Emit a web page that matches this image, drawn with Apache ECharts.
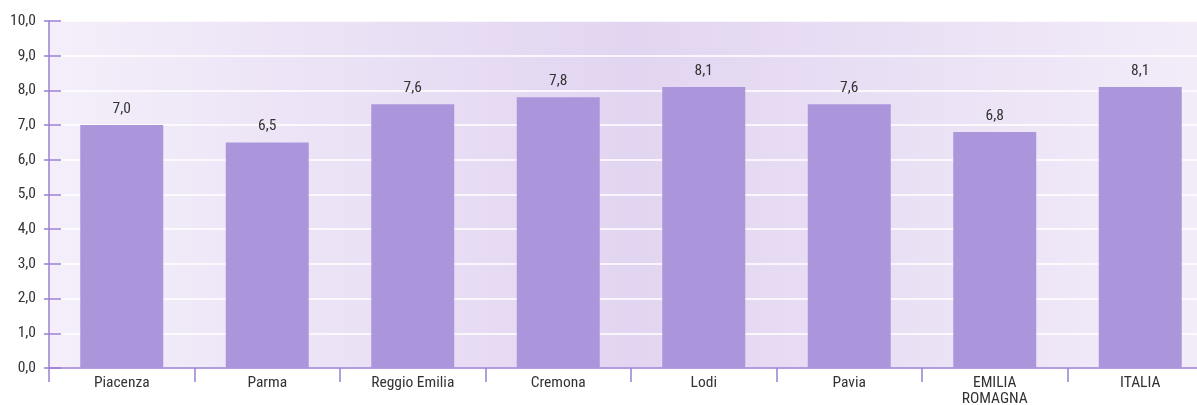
<!DOCTYPE html>
<html>
<head>
<meta charset="utf-8">
<script src="https://cdn.jsdelivr.net/npm/echarts@6/dist/echarts.min.js"></script>
<style>
  html, body { margin: 0; padding: 0; background: #fff; }
  #bar-chart { width: 1197px; height: 405px; }
</style>
</head>
<body>
<div id="bar-chart"></div>
<script>
var categories = ['Piacenza', 'Parma', 'Reggio Emilia', 'Cremona', 'Lodi', 'Pavia', 'EMILIA\nROMAGNA', 'ITALIA']
var values = [7.0, 6.5, 7.6, 7.8, 8.1, 7.6, 6.8, 8.1]
var yMin = 0
var yMax = 10
var yStep = 1

var fontStack = '"Roboto Condensed", "Liberation Sans Narrow", "DejaVu Sans Condensed", Roboto, sans-serif'
var purple = '#9b7fd6'

function fmt(v) {
  return Number(v).toFixed(1).replace('.', ',')
}

var chart = echarts.init(document.getElementById('bar-chart'))
var option = {
  animation: false,
  textStyle: { fontFamily: fontStack },
  grid: {
    left: 49,
    top: 21,
    width: 1164,
    height: 347,
    outerBoundsMode: 'none',
    containLabel: false,
    show: true,
    borderWidth: 0,
    backgroundColor: {
      type: 'linear',
      x: 0, y: 0, x2: 1, y2: 0,
      colorStops: [
        { offset: 0, color: '#f4effa' },
        { offset: 0.5, color: '#e2d5f1' },
        { offset: 1, color: '#f3edf9' }
      ]
    }
  },
  xAxis: {
    type: 'category',
    data: categories,
    axisLine: { lineStyle: { color: purple, width: 1.5 }},
    axisTick: { show: true, length: 14, lineStyle: { color: purple, width: 1.5 }},
    axisLabel: {
      color: '#333',
      fontSize: 15.5,
      fontFamily: fontStack,
      margin: 7,
      lineHeight: 16,
      interval: 0
    }
  },
  yAxis: [
    {
      type: 'value',
      min: yMin,
      max: yMax,
      interval: yStep,
      axisLine: { show: true, lineStyle: { color: purple, width: 1.5 }},
      axisTick: { show: true, length: 5, lineStyle: { color: purple, width: 1.5 }},
      axisLabel: {
        color: '#333',
        fontSize: 15.5,
        fontFamily: fontStack,
        margin: 13,
        formatter: fmt
      },
      splitLine: { show: true, lineStyle: { color: '#ffffff', width: 1.5 }}
    },
    {
      // second copy only for the inner half of the ticks
      type: 'value',
      position: 'left',
      min: yMin,
      max: yMax,
      interval: yStep,
      axisLine: { show: false },
      axisTick: { show: true, inside: true, length: 12, lineStyle: { color: purple, width: 1.5 }},
      axisLabel: { show: false },
      splitLine: { show: false }
    }
  ],
  series: [
    {
      type: 'bar',
      data: values,
      barWidth: 83,
      itemStyle: { color: '#ab96dc' },
      label: {
        show: true,
        position: 'top',
        distance: 8,
        color: '#333',
        fontSize: 15.5,
        fontFamily: fontStack,
        formatter: function (p) { return fmt(p.value) }
      }
    }
  ]
}
chart.setOption(option, true)
</script>
</body>
</html>
